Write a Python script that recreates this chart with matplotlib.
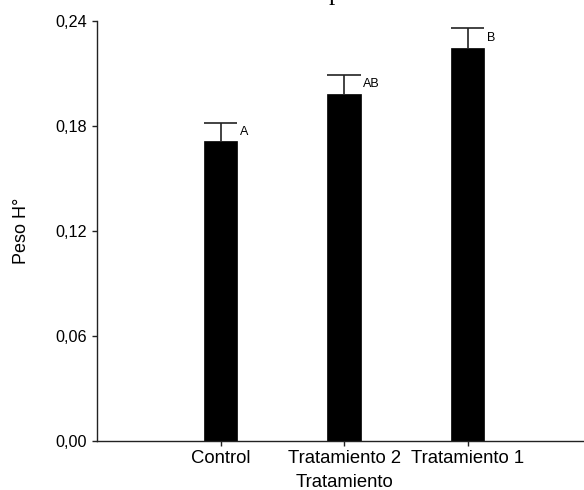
import matplotlib
matplotlib.use("Agg")
import matplotlib.pyplot as plt

categories = ["Control", "Tratamiento 2", "Tratamiento 1"]
values = [0.1716, 0.1985, 0.2248]
errors = [0.0103, 0.0105, 0.0112]
letters = ["A", "AB", "B"]
yticks = [0.00, 0.06, 0.12, 0.18, 0.24]
ytick_labels = ["0,00", "0,06", "0,12", "0,18", "0,24"]

plt.rcParams['font.family'] = ['Liberation Sans', 'DejaVu Sans']

W, H = 584, 490
fig = plt.figure(figsize=(W / 100, H / 100), dpi=100)
ax = fig.add_axes([97 / W, 49 / H, 494 / W, 420 / H])

x = list(range(len(categories)))
bw = 0.27
ax.bar(x, values, width=bw, color='black', edgecolor='black', linewidth=0.5, zorder=2)
tops = [v + e for v, e in zip(values, errors)]
ax.vlines(x, values, tops, color='#222222', linewidth=1.2, zorder=1)
ax.hlines(tops, [xi - bw / 2 for xi in x], [xi + bw / 2 for xi in x],
          color='#222222', linewidth=1.2, zorder=1)

for xi, v, e, lab in zip(x, values, errors, letters):
    ax.text(xi + bw / 2 + 0.022, v + 0.5 * e, lab, fontsize=9, ha='left', va='center')

ax.set_xlim(-1.0, 3.0)
ax.set_ylim(0, 0.24)
ax.set_xticks(x)
ax.set_xticklabels(categories, fontsize=13.3)
ax.set_yticks(yticks)
ax.set_yticklabels(ytick_labels, fontsize=11.7)
ax.set_xlabel("Tratamiento", fontsize=13.3)
ax.set_ylabel("Peso H°", fontsize=13, labelpad=18)
ax.xaxis.set_label_coords((344 - 97) / 494, -0.079)
for s in ['top', 'right']:
    ax.spines[s].set_visible(False)
for s in ['left', 'bottom']:
    ax.spines[s].set_linewidth(1.0)
    ax.spines[s].set_color('#222222')
ax.tick_params(direction='out', length=3.6, width=1, colors='#222222', labelcolor='black')
ax.tick_params(axis='y', pad=3.6)
ax.tick_params(axis='x', pad=3)

# clipped title remnant at the top edge
fig.text(329 / W, 1 - 0.3 / H, "p", fontsize=18, family=['Liberation Serif', 'DejaVu Serif'],
         ha='left', va='baseline')

fig.savefig("out.png", dpi=100)
